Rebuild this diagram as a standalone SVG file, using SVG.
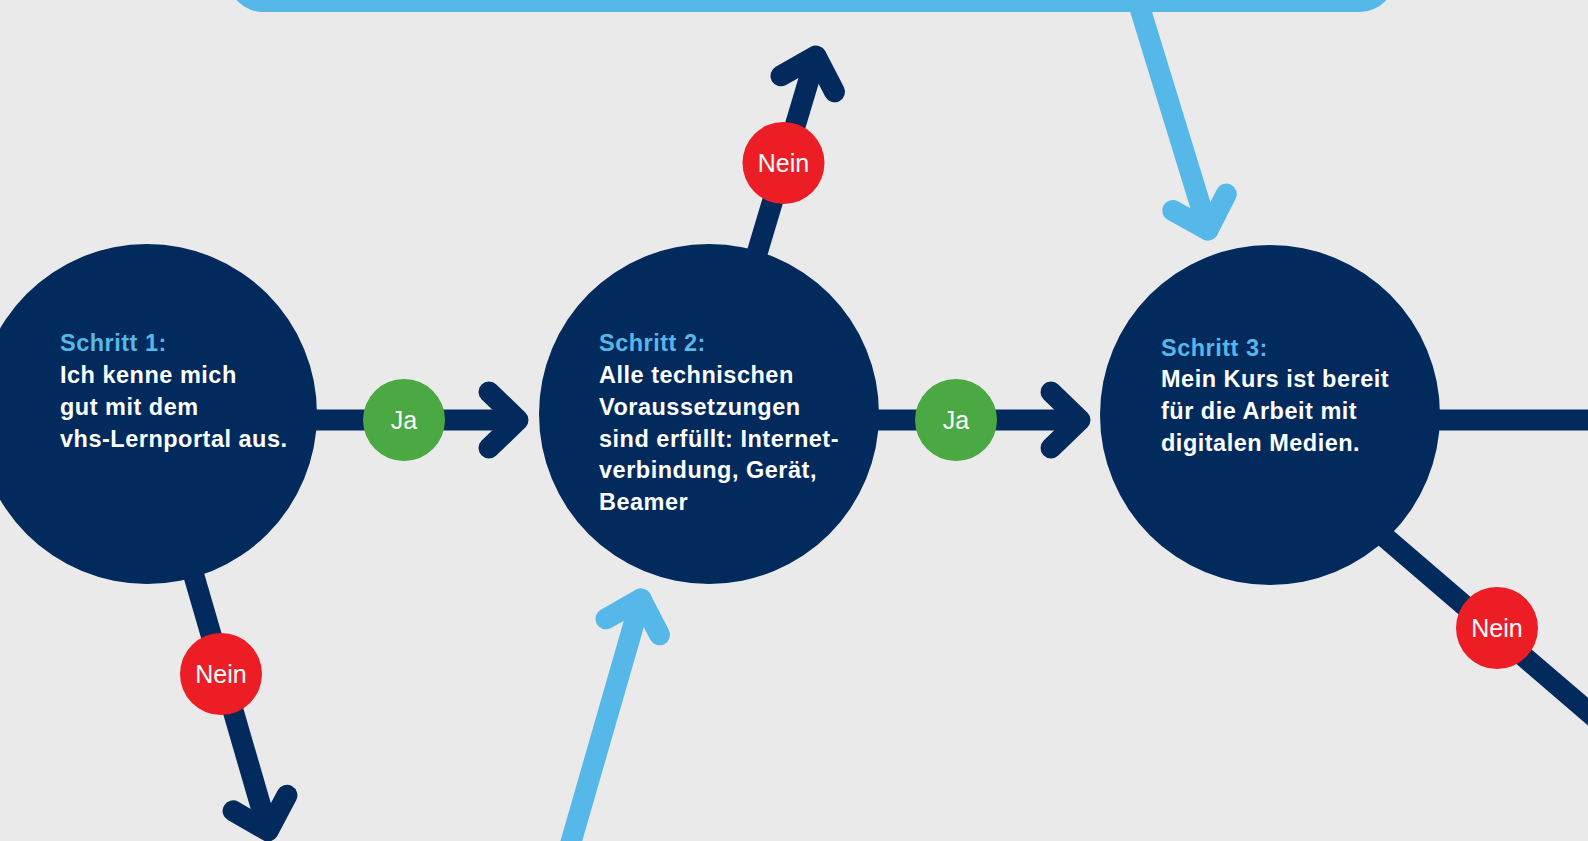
<svg xmlns="http://www.w3.org/2000/svg" width="1588" height="841" viewBox="0 0 1588 841">
<style>
.bg{fill:#eaeaea}
.node{fill:#022a5c}
.dk{stroke:#022a5c;stroke-width:21;fill:none;stroke-linecap:round;stroke-linejoin:round}
.dl{stroke:#022a5c;stroke-width:21;fill:none}
.lb{stroke:#56b8e8;stroke-width:21;fill:none;stroke-linecap:round;stroke-linejoin:round}
.ja{fill:#4aa943}
.nein{fill:#ed1d25}
.lbl{font-family:"Liberation Sans",Arial,sans-serif;font-size:25px;fill:#ffffff;text-anchor:middle}
.t{font-family:"Liberation Sans",Arial,sans-serif;font-size:23.5px;font-weight:bold;letter-spacing:0.5px;fill:#ffffff}
.h{fill:#56b8e8}
</style>
<rect class="bg" x="0" y="0" width="1588" height="841"/>
<g id="connectors">
<line class="dl" x1="147" y1="420" x2="518" y2="420"/>
<polyline class="dk" points="489,392 518,420 489,448"/>
<line class="dl" x1="709" y1="420" x2="1080" y2="420"/>
<polyline class="dk" points="1051,392 1080,420 1051,448"/>
<line class="dl" x1="1270" y1="420" x2="1600" y2="420"/>
<line class="dl" x1="147" y1="414" x2="268" y2="831"/>
<polyline class="dk" points="233.1,810.9 268,831 286.9,795.3"/>
<line class="dl" x1="709" y1="414" x2="816" y2="56"/>
<polyline class="dk" points="780.9,75.8 816,56 834.5,91.8"/>
<line class="dl" x1="1300" y1="464.3" x2="1620" y2="739.2"/>
<line class="lb" x1="1139" y1="5" x2="1208" y2="230"/>
<polyline class="lb" points="1172.7,210.5 1208,230 1226.3,194.1"/>
<line class="lb" x1="563" y1="870" x2="641" y2="599"/>
<polyline class="lb" points="605.9,618.8 641,599 659.5,634.8"/>
</g>
<g id="box-top">
<rect x="228" y="-100" width="1167" height="112" rx="35" fill="#56b8e8"/>
</g>
<g id="step1">
<circle class="node" cx="147" cy="414" r="170"/>
<text class="t" x="60" y="351"><tspan class="h">Schritt 1:</tspan><tspan x="60" y="383">Ich kenne mich</tspan><tspan x="60" y="415">gut mit dem</tspan><tspan x="60" y="447">vhs-Lernportal aus.</tspan></text>
</g>
<g id="step2">
<circle class="node" cx="709" cy="414" r="170"/>
<text class="t" x="599" y="351"><tspan class="h">Schritt 2:</tspan><tspan x="599" y="383">Alle technischen</tspan><tspan x="599" y="415">Voraussetzungen</tspan><tspan x="599" y="447">sind erfüllt: Internet-</tspan><tspan x="599" y="478">verbindung, Gerät,</tspan><tspan x="599" y="510">Beamer</tspan></text>
</g>
<g id="step3">
<circle class="node" cx="1270" cy="415" r="170"/>
<text class="t" x="1161" y="356"><tspan class="h">Schritt 3:</tspan><tspan x="1161" y="387">Mein Kurs ist bereit</tspan><tspan x="1161" y="419">für die Arbeit mit</tspan><tspan x="1161" y="451">digitalen Medien.</tspan></text>
</g>
<g id="labels">
<circle class="ja" cx="404" cy="420" r="41"/>
<text class="lbl" x="404" y="429">Ja</text>
<circle class="ja" cx="956" cy="420" r="41"/>
<text class="lbl" x="956" y="429">Ja</text>
<circle class="nein" cx="221" cy="674" r="41"/>
<text class="lbl" x="221" y="683">Nein</text>
<circle class="nein" cx="783.5" cy="163" r="41"/>
<text class="lbl" x="783.5" y="172">Nein</text>
<circle class="nein" cx="1497" cy="628" r="41"/>
<text class="lbl" x="1497" y="637">Nein</text>
</g>
</svg>
